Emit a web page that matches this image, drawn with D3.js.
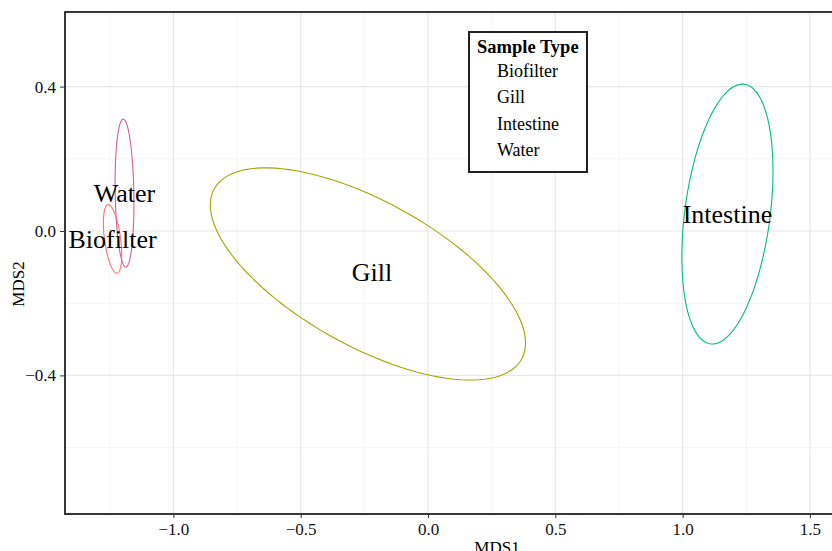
<!DOCTYPE html>
<html>
<head>
<meta charset="utf-8">
<script src="https://cdn.jsdelivr.net/npm/d3@7"></script>
<style>
  body { margin: 0; background: #fff; }
  text { font-family: 'Liberation Serif', 'Times New Roman', serif; }
</style>
</head>
<body>
<div id="chart"></div>
<script>
const width = 832,
    height = 551

// ellipse per sample type: centre, half extents along x / y, correlation
const groups = ['Biofilter', 'Gill', 'Intestine', 'Water']
const colors = ['#F8766D', '#A3A500', '#00BF7D', '#DA5CA8']
const centerX = [-1.239, -0.236, 1.176, -1.192]
const centerY = [-0.022, -0.119, 0.047, 0.105]
const halfX = [0.036, 0.619, 0.179, 0.037]
const halfY = [0.095, 0.294, 0.360, 0.205]
const rho = [-0.47, -0.65, 0.33, -0.135]
// group label positions (centroids)
const labelX = [-1.239, -0.22, 1.176, -1.192]
const labelY = [-0.022, -0.114, 0.047, 0.105]

const xTicks = [-1.0, -0.5, 0.0, 0.5, 1.0, 1.5]
const yTicks = [-0.4, 0.0, 0.4]
const xMinor = [-1.25, -0.75, -0.25, 0.25, 0.75, 1.25, 1.75]
const yMinor = [-0.6, -0.2, 0.2, 0.6]

const panel = { left: 65, top: 12, right: 929, bottom: 514 }

const x = d3.scaleLinear().domain([0, 0.5]).range([428, 555.3])
const y = d3.scaleLinear().domain([0, 0.4]).range([231, 86.6])

const svg = d3.select('#chart')
  .append('svg')
    .attr('width', width)
    .attr('height', height)

// grid
const grid = svg.append('g')
grid.selectAll('.xminor').data(xMinor).join('line')
  .attr('x1', d => x(d)).attr('x2', d => x(d))
  .attr('y1', panel.top).attr('y2', panel.bottom)
  .attr('stroke', '#f4f4f4').attr('stroke-width', 1)
grid.selectAll('.yminor').data(yMinor).join('line')
  .attr('y1', d => y(d)).attr('y2', d => y(d))
  .attr('x1', panel.left).attr('x2', panel.right)
  .attr('stroke', '#f4f4f4').attr('stroke-width', 1)
grid.selectAll('.xmajor').data(xTicks).join('line')
  .attr('x1', d => x(d)).attr('x2', d => x(d))
  .attr('y1', panel.top).attr('y2', panel.bottom)
  .attr('stroke', '#e8e8e8').attr('stroke-width', 1.2)
grid.selectAll('.ymajor').data(yTicks).join('line')
  .attr('y1', d => y(d)).attr('y2', d => y(d))
  .attr('x1', panel.left).attr('x2', panel.right)
  .attr('stroke', '#e8e8e8').attr('stroke-width', 1.2)

// ellipses
const line = d3.line().x(p => x(p[0])).y(p => y(p[1]))
const ellipseData = groups.map((g, i) => {
  const phi = Math.acos(rho[i])
  const pts = d3.range(0, 361, 3).map(a => {
    const t = a * Math.PI / 180
    return [centerX[i] + halfX[i] * Math.cos(t), centerY[i] + halfY[i] * Math.cos(t - phi)]
  })
  return { name: g, color: colors[i], pts: pts, lx: labelX[i], ly: labelY[i] }
})

svg.append('g').selectAll('path').data(ellipseData).join('path')
  .attr('d', d => line(d.pts))
  .attr('fill', 'none')
  .attr('stroke', d => d.color)
  .attr('stroke-width', 1.1)

svg.append('g').selectAll('text').data(ellipseData).join('text')
  .attr('x', d => x(d.lx))
  .attr('y', d => y(d.ly))
  .attr('dy', '0.33em')
  .attr('text-anchor', 'middle')
  .style('font-size', '26px')
  .text(d => d.name)

// panel border
svg.append('rect')
  .attr('x', panel.left).attr('y', panel.top)
  .attr('width', panel.right - panel.left).attr('height', panel.bottom - panel.top)
  .attr('fill', 'none')
  .attr('stroke', '#222').attr('stroke-width', 1.8)

// axes
const fmt = d => d3.format('.1f')(d).replace('-', '\u2212')
const xAxis = svg.append('g')
  .attr('transform', `translate(0, ${panel.bottom})`)
  .call(d3.axisBottom(x).tickValues(xTicks).tickFormat(fmt).tickSize(4).tickPadding(5))
const yAxis = svg.append('g')
  .attr('transform', `translate(${panel.left}, 0)`)
  .call(d3.axisLeft(y).tickValues(yTicks).tickFormat(fmt).tickSize(5).tickPadding(4))

for (const ax of [xAxis, yAxis]) {
  ax.select('.domain').remove()
  ax.selectAll('line').attr('stroke', '#333')
  ax.selectAll('text')
    .style('font-family', "'Liberation Serif', serif")
    .style('font-size', '17px')
    .attr('fill', '#111')
}

svg.append('text')
  .attr('x', 497).attr('y', 553)
  .attr('text-anchor', 'middle')
  .style('font-size', '17px')
  .text('MDS1')

svg.append('text')
  .attr('transform', 'translate(24, 284) rotate(-90)')
  .attr('text-anchor', 'middle')
  .style('font-size', '17px')
  .text('MDS2')

// legend
const legend = svg.append('g')
legend.append('rect')
  .attr('x', 469).attr('y', 32).attr('width', 118).attr('height', 140)
  .attr('fill', '#fff').attr('stroke', '#222').attr('stroke-width', 2)
legend.append('text')
  .attr('x', 477).attr('y', 53)
  .style('font-size', '18.5px').style('font-weight', 'bold')
  .text('Sample Type')
const itemY = d3.scalePoint().domain(groups).range([77, 156])
legend.selectAll('.item').data(groups).join('text')
  .attr('x', 497)
  .attr('y', d => itemY(d))
  .style('font-size', '18px')
  .text(d => d)
</script>
</body>
</html>
